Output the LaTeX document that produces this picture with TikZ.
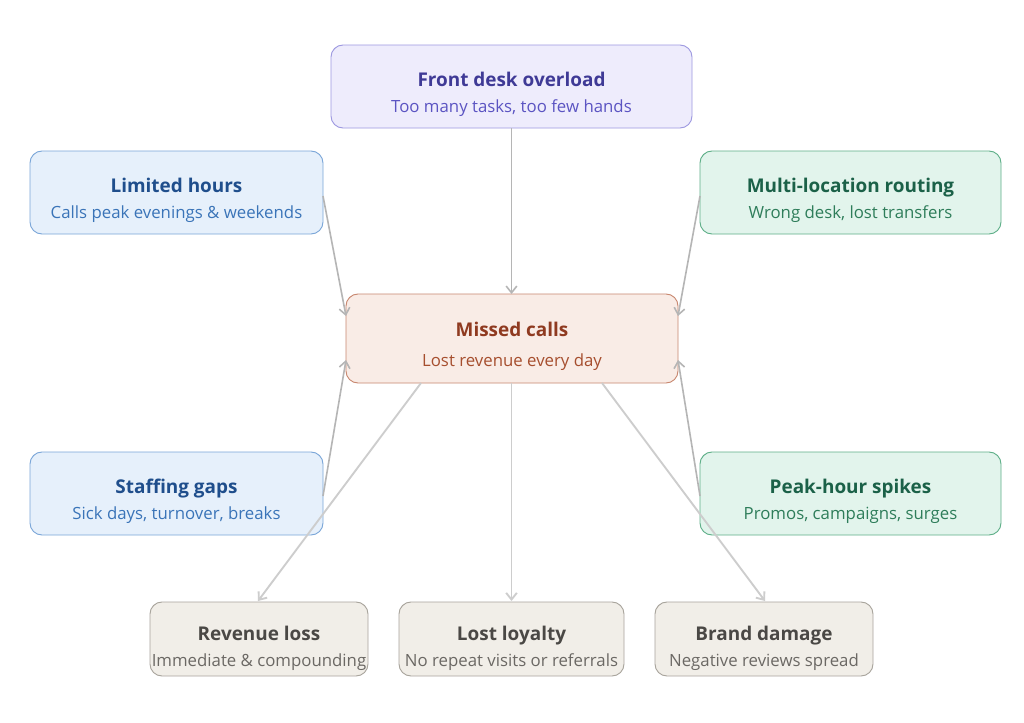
\documentclass[tikz,border=0pt]{standalone}
\usepackage{fontspec}
\setmainfont{Open Sans}
\usetikzlibrary{arrows.meta}
\definecolor{pfill}{HTML}{EEECFC}\definecolor{pdraw}{HTML}{9D98E0}\definecolor{ptitle}{HTML}{3F3A96}\definecolor{psub}{HTML}{5B54C2}
\definecolor{bfill}{HTML}{E6F0FB}\definecolor{bdraw}{HTML}{7AA6D8}\definecolor{btitle}{HTML}{1F4E8C}\definecolor{bsub}{HTML}{3A74B8}
\definecolor{gfill}{HTML}{E2F4EC}\definecolor{gdraw}{HTML}{5EAF88}\definecolor{gtitle}{HTML}{1B6148}\definecolor{gsub}{HTML}{2E7D5A}
\definecolor{rfill}{HTML}{F9ECE6}\definecolor{rdraw}{HTML}{C8876F}\definecolor{rtitle}{HTML}{8F3A20}\definecolor{rsub}{HTML}{A64E2E}
\definecolor{nfill}{HTML}{F1EEE8}\definecolor{ndraw}{HTML}{A8A49C}\definecolor{ntitle}{HTML}{4A4845}\definecolor{nsub}{HTML}{6B6864}
\definecolor{arr}{HTML}{B5B5B5}\definecolor{arrl}{HTML}{CDCDCD}
\tikzset{
  x=0.75pt, y=-0.75pt,
  box/.style={rounded corners=9pt, line width=0.7pt, inner sep=0pt},
  ttl/.style={font=\fontsize{14.2}{17}\selectfont\bfseries, inner sep=0pt, anchor=base},
  sbt/.style={font=\fontsize{12.6}{15}\selectfont, inner sep=0pt, anchor=base},
  con/.style={draw=arr, line width=1.2pt, -{Straight Barb[length=5pt,width=8pt]}},
  conl/.style={draw=arrl, line width=1.4pt, -{Straight Barb[length=5pt,width=8pt]}},
}
\begin{document}
\begin{tikzpicture}
\useasboundingbox (0,0) rectangle (1024,722);
\fill[white] (0,0) rectangle (1024,722);
% boxes
\draw[box, fill=pfill, draw=pdraw] (331,45) rectangle (692,128);
\node[ttl, text=ptitle] (t1) at (511.5,86) {Front desk overload};
\node[sbt, text=psub] (s1) at (511.5,112) {Too many tasks, too few hands};
\coordinate (top) at (511.5,128);

\draw[box, fill=bfill, draw=bdraw] (30,151) rectangle (323,234);
\node[ttl, text=btitle] (t2) at (176.5,192) {Limited hours};
\node[sbt, text=bsub] (s2) at (176.5,218) {Calls peak evenings \& weekends};

\draw[box, fill=gfill, draw=gdraw] (700,151) rectangle (1001,234);
\node[ttl, text=gtitle] (t3) at (850.5,192) {Multi-location routing};
\node[sbt, text=gsub] (s3) at (850.5,218) {Wrong desk, lost transfers};

\draw[box, fill=rfill, draw=rdraw] (346,294) rectangle (678,383);
\node[ttl, text=rtitle] (t4) at (512,336) {Missed calls};
\node[sbt, text=rsub] (s4) at (512,366) {Lost revenue every day};

\draw[box, fill=bfill, draw=bdraw] (30,452) rectangle (323,535);
\node[ttl, text=btitle] (t5) at (176.5,493) {Staffing gaps};
\node[sbt, text=bsub] (s5) at (176.5,519) {Sick days, turnover, breaks};

\draw[box, fill=gfill, draw=gdraw] (700,452) rectangle (1001,535);
\node[ttl, text=gtitle] (t6) at (850.5,493) {Peak-hour spikes};
\node[sbt, text=gsub] (s6) at (850.5,519) {Promos, campaigns, surges};

\draw[box, fill=nfill, draw=ndraw] (150,602) rectangle (368,676);
\node[ttl, text=ntitle] (t7) at (259,640) {Revenue loss};
\node[sbt, text=nsub] (s7) at (259,666) {Immediate \& compounding};

\draw[box, fill=nfill, draw=ndraw] (399,602) rectangle (624,676);
\node[ttl, text=ntitle] (t8) at (511.5,640) {Lost loyalty};
\node[sbt, text=nsub] (s8) at (511.5,666) {No repeat visits or referrals};

\draw[box, fill=nfill, draw=ndraw] (655,602) rectangle (873,676);
\node[ttl, text=ntitle] (t9) at (764,640) {Brand damage};
\node[sbt, text=nsub] (s9) at (764,666) {Negative reviews spread};

% connector anchors
\coordinate (lhout) at (323,196);
\coordinate (mlout) at (700,196);
\coordinate (sgout) at (323,496);
\coordinate (phout) at (700,496);
\coordinate (cTop) at (511.5,294);
\coordinate (cTL) at (346,316);
\coordinate (cTR) at (678,316);
\coordinate (cBL) at (346,360);
\coordinate (cBR) at (678,360);
\coordinate (cB1) at (421,383);
\coordinate (cB2) at (511.5,383);
\coordinate (cB3) at (602,383);
\coordinate (rl) at (258,601);
\coordinate (ll) at (511.5,601);
\coordinate (bd) at (765,601);

\draw[con] (top) -- (cTop);
\draw[con] (lhout) -- (cTL);
\draw[con] (mlout) -- (cTR);
\draw[con] (sgout) -- (cBL);
\draw[con] (phout) -- (cBR);
\draw[conl] (cB1) -- (rl);
\draw[conl] (cB2) -- (ll);
\draw[conl] (cB3) -- (bd);
\end{tikzpicture}
\end{document}
